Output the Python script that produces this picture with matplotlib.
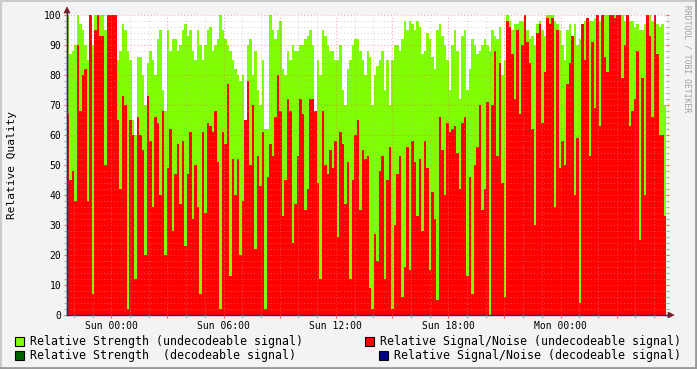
import numpy as np
import pandas as pd
import matplotlib
matplotlib.use("Agg")
import matplotlib.pyplot as plt
import matplotlib.dates as mdates
from matplotlib.patches import Rectangle, Polygon
from matplotlib.lines import Line2D
from matplotlib.ticker import MultipleLocator, FuncFormatter

W, H, DPI = 697, 369, 100
MONO = "DejaVu Sans Mono"

# samples every 8 minutes, starting Sat 21:38
start = "2012-01-07 21:38"
step = "8min"

# relative strength (undecodeable signal), percent
strength = [
    100, 87, 88, 90, 100, 97, 95, 90, 85, 100, 90, 100, 100, 100, 100, 95, 100, 100, 100, 100,
    85, 88, 97, 95, 88, 85, 65, 60, 86, 86, 80, 70, 84, 88, 85, 80, 92, 95, 75, 68,
    95, 88, 92, 92, 88, 90, 95, 97, 93, 95, 88, 85, 95, 90, 85, 90, 95, 96, 88, 90,
    92, 100, 95, 92, 90, 88, 85, 82, 80, 78, 80, 55, 90, 92, 80, 88, 75, 70, 85, 62,
    62, 100, 95, 92, 95, 98, 82, 80, 88, 85, 90, 88, 88, 90, 90, 92, 93, 95, 90, 60,
    85, 80, 95, 93, 90, 88, 88, 85, 85, 90, 75, 70, 82, 85, 90, 92, 92, 88, 85, 80,
    88, 86, 70, 80, 83, 85, 88, 75, 85, 70, 85, 90, 90, 88, 92, 98, 95, 98, 97, 95,
    98, 96, 87, 88, 94, 92, 86, 82, 95, 97, 93, 90, 85, 75, 90, 95, 88, 72, 93, 95,
    75, 82, 92, 90, 87, 88, 90, 92, 90, 88, 95, 93, 92, 96, 80, 85, 100, 98, 95, 97,
    97, 98, 98, 100, 95, 92, 93, 90, 97, 98, 95, 93, 100, 100, 100, 98, 97, 95, 90, 85,
    95, 97, 92, 97, 90, 92, 97, 98, 99, 98, 98, 99, 100, 98, 100, 100, 100, 100, 100, 100,
    100, 100, 100, 98, 100, 98, 98, 96, 97, 95, 95, 97, 100, 100, 98, 100, 97, 96, 97, 70,
]

# relative signal/noise (undecodeable signal), percent
snr = [
    67, 45, 48, 38, 90, 68, 80, 82, 38, 100, 7, 95, 100, 93, 93, 50, 100, 100, 100, 100,
    65, 42, 73, 70, 2, 65, 60, 12, 66, 60, 55, 20, 73, 58, 36, 66, 64, 40, 68, 20,
    49, 62, 28, 47, 57, 37, 58, 23, 47, 61, 32, 50, 36, 7, 61, 34, 64, 63, 61, 68,
    51, 2, 61, 57, 77, 13, 52, 40, 52, 20, 38, 65, 78, 50, 70, 22, 53, 43, 61, 2,
    46, 57, 53, 66, 80, 68, 33, 45, 72, 68, 24, 37, 53, 72, 67, 35, 42, 72, 72, 68,
    44, 12, 68, 50, 47, 55, 49, 58, 26, 61, 57, 37, 51, 12, 45, 60, 65, 35, 55, 52,
    53, 9, 2, 27, 18, 48, 53, 12, 45, 56, 2, 30, 47, 53, 6, 16, 56, 15, 58, 51,
    33, 52, 28, 58, 49, 15, 41, 32, 5, 66, 55, 40, 64, 61, 62, 63, 54, 42, 64, 66,
    13, 46, 7, 50, 56, 70, 35, 42, 71, 0, 70, 88, 53, 84, 44, 6, 98, 96, 87, 72,
    95, 67, 90, 100, 91, 84, 62, 30, 94, 97, 64, 81, 99, 97, 99, 36, 95, 49, 58, 50,
    77, 84, 93, 40, 59, 4, 97, 85, 99, 53, 91, 69, 100, 63, 100, 86, 81, 100, 100, 99,
    100, 100, 79, 90, 100, 63, 68, 72, 88, 25, 79, 40, 100, 93, 66, 100, 87, 60, 60, 33,
]

legend_labels = [
    "Relative Strength (undecodeable signal)",
    "Relative Strength  (decodeable signal)",
    "Relative Signal/Noise (undecodeable signal)",
    "Relative Signal/Noise (decodeable signal)",
]
legend_colors = ["#7FFF00", "#006400", "#FF0000", "#00008B"]

edges = pd.date_range(start, periods=len(snr) + 1, freq=step)
edges = mdates.date2num(edges.to_pydatetime())

fig = plt.figure(figsize=(W / DPI, H / DPI), dpi=DPI, facecolor="#F3F3F3")


def px(x, y):
    """pixel (from top-left) -> figure fraction"""
    return x / W, 1 - y / H


# plot area: x 67..666, y 15..315
ax = fig.add_axes([67 / W, (H - 315) / H, 599 / W, 300 / H])
ax.set_facecolor("white")

ax.stairs(strength, edges, fill=True, color=legend_colors[0], baseline=0, linewidth=0)
ax.stairs(snr, edges, fill=True, color=legend_colors[2], baseline=0, linewidth=0)

ax.set_xlim(edges[0], edges[-1])
ax.set_ylim(0, 100)

# y axis
ax.yaxis.set_major_locator(MultipleLocator(10))
ax.yaxis.set_minor_locator(MultipleLocator(2))

# x axis: grid every hour, major grid every 3h, labels every 6h
ax.xaxis.set_major_locator(mdates.HourLocator(byhour=range(0, 24, 3)))
ax.xaxis.set_minor_locator(mdates.HourLocator())


def xfmt(v, pos):
    d = mdates.num2date(v)
    if d.hour % 6 == 0:
        return d.strftime("%a %H:%M")
    return ""


ax.xaxis.set_major_formatter(FuncFormatter(xfmt))

ax.set_axisbelow(False)
ax.grid(True, which="major", color="#FF5F5F", alpha=0.55, linestyle=(0, (1, 2)), linewidth=0.8)
ax.grid(True, which="minor", color="#ABABAB", alpha=0.45, linestyle=(0, (1, 2)), linewidth=0.8)

ax.tick_params(which="both", direction="out", length=2, width=0.8, pad=2,
               labelsize=7, top=False, right=True)
ax.tick_params(which="major", color="#FF5F5F")
ax.tick_params(which="minor", color="#ABABAB")
for lab in ax.get_xticklabels() + ax.get_yticklabels():
    lab.set_fontfamily(MONO)

for s in ["top", "right"]:
    ax.spines[s].set_visible(False)
for s in ["left", "bottom"]:
    ax.spines[s].set_color("#2C2C5C")
    ax.spines[s].set_linewidth(1)

# axis arrows
arrow_c = "#8B1A1A"
fig.add_artist(Line2D([67 / W, 67 / W], [px(0, 315)[1], px(0, 10)[1]],
                      color="#2C2C5C", linewidth=1))
fig.add_artist(Polygon([px(64, 13), px(70, 13), px(67, 7)], closed=True,
                       facecolor=arrow_c, edgecolor=arrow_c, linewidth=0.5))
fig.add_artist(Line2D([px(666, 0)[0], px(670, 0)[0]], [px(0, 315)[1]] * 2,
                      color="#2C2C5C", linewidth=1))
fig.add_artist(Polygon([px(668, 312), px(668, 318), px(674, 315)], closed=True,
                       facecolor=arrow_c, edgecolor=arrow_c, linewidth=0.5))

# axis title and watermark
fig.text(*px(12, 165), "Relative Quality", rotation=90, ha="center", va="center",
         fontsize=8, family=MONO, color="black")
fig.text(*px(687, 5), "RRDTOOL / TOBI OETIKER", rotation=270, ha="center", va="top",
         fontsize=5.8, family=MONO, color="#A0A0A0")

# legend
legend_pos = [(15, 341), (15, 355), (365, 341), (379, 355)]
for (lx, ly), lab, col in zip(legend_pos, legend_labels, legend_colors):
    x0, y0 = px(lx, ly + 4.5)
    fig.add_artist(Rectangle((x0, y0), 9 / W, 9 / H, transform=fig.transFigure,
                             facecolor=col, edgecolor="black", linewidth=0.8))
    fig.text(*px(lx + 15, ly), lab, ha="left", va="center", fontsize=8.4,
             family=MONO, color="black")

# frame shading
fig.add_artist(Line2D([0, 1], [1 - 0.5 / H] * 2, color="#CBCBCB", linewidth=1.5))
fig.add_artist(Line2D([0.5 / W] * 2, [0, 1], color="#CBCBCB", linewidth=1.5))
fig.add_artist(Line2D([0, 1], [1 / H] * 2, color="#999999", linewidth=2))
fig.add_artist(Line2D([1 - 1 / W] * 2, [0, 1], color="#999999", linewidth=2))

fig.savefig("out.png", dpi=DPI, facecolor=fig.get_facecolor())
